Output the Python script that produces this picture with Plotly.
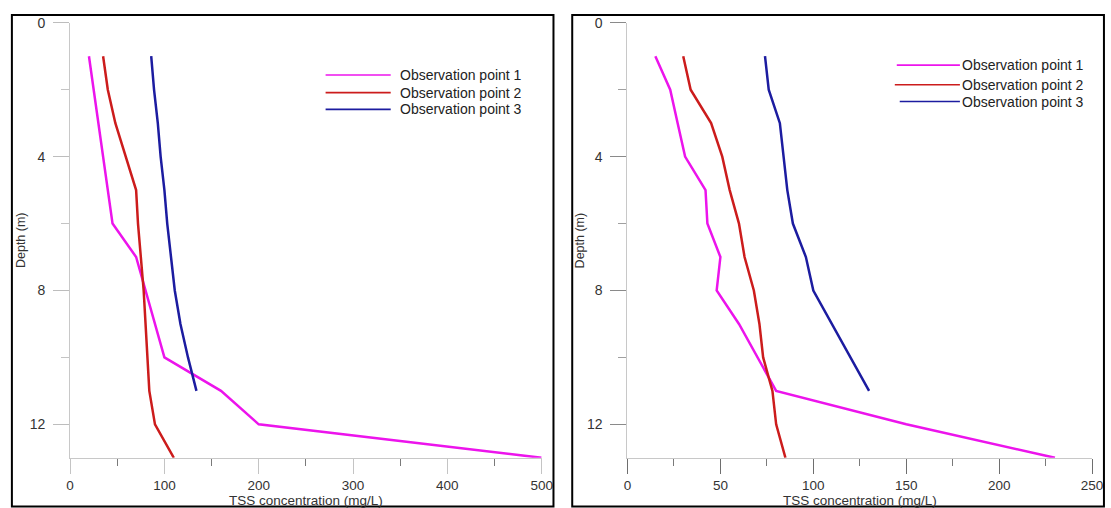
import plotly.graph_objects as go

W, H = 1111, 508

# ---------------- data ----------------
# Left panel
depth_L1 = [1, 6, 7, 10, 11, 12, 13]
tss_L1 = [20, 45, 70, 100, 160, 200, 500]
depth_L2 = [1, 2, 3, 4, 5, 6, 7, 8, 9, 10, 11, 12, 13]
tss_L2 = [35, 40, 48, 59, 70, 72, 75, 78, 80, 82, 84, 90, 110]
depth_L3 = [1, 2, 3, 4, 5, 6, 7, 8, 9, 10, 11]
tss_L3 = [86, 89, 93, 96, 100, 103, 107, 111, 117, 125, 134]

# Right panel
depth_R1 = [1, 2, 3, 4, 5, 6, 7, 8, 9, 10, 11, 12, 13]
tss_R1 = [15, 23, 27, 31, 42, 43, 50, 48, 60, 70, 80, 150, 230]
depth_R2 = [1, 2, 3, 4, 5, 6, 7, 8, 9, 10, 11, 12, 13]
tss_R2 = [30, 34, 45, 51, 55, 60, 63, 68, 71, 73, 78, 80, 85]
depth_R3 = [1, 2, 3, 4, 5, 6, 7, 8, 9, 10, 11]
tss_R3 = [74, 76, 82, 84, 86, 89, 96, 100, 110, 120, 130]

series_names = ["Observation point 1", "Observation point 2", "Observation point 3"]
colors = ["#ec14ec", "#cc1c1c", "#1c1ca0"]
depth_ticks = [0, 4, 8, 12]
depth_minor = [2, 6, 10]

FONT = "Liberation Sans, Arial, sans-serif"
TXT = "#333333"
FS = 14


def px(x):
    return x / W


def py(y):
    return 1 - y / H


fig = go.Figure()

left = [(tss_L1, depth_L1), (tss_L2, depth_L2), (tss_L3, depth_L3)]
right = [(tss_R1, depth_R1), (tss_R2, depth_R2), (tss_R3, depth_R3)]
for i, (xv, yv) in enumerate(left):
    fig.add_trace(go.Scatter(x=xv, y=yv, mode="lines", name=series_names[i],
                             line=dict(color=colors[i], width=2.5),
                             xaxis="x", yaxis="y", showlegend=False))
for i, (xv, yv) in enumerate(right):
    fig.add_trace(go.Scatter(x=xv, y=yv, mode="lines", name=series_names[i],
                             line=dict(color=colors[i], width=2.5),
                             xaxis="x2", yaxis="y2", showlegend=False))

y_dom = [py(457), py(15)]


def x_axis(dom, rng, dtick, mdtick, major_col, minor_col):
    return dict(domain=dom, range=rng, tickmode="linear", tick0=0, dtick=dtick,
                showgrid=False, zeroline=False, showline=True, linecolor="#c8c8c8",
                linewidth=1, ticks="outside", ticklen=15, tickwidth=1, tickcolor=major_col,
                tickfont=dict(family=FONT, size=13.5, color=TXT), ticklabelstandoff=0,
                minor=dict(dtick=mdtick, ticks="outside", ticklen=7, tickwidth=1,
                           tickcolor=minor_col))


def y_axis(major_col, minor_col):
    return dict(domain=y_dom, range=[13, 0], tickmode="array", tickvals=depth_ticks,
                showgrid=False, zeroline=False, showline=True, linecolor="#c8c8c8",
                linewidth=1, ticks="outside", ticklen=16, tickwidth=1, tickcolor=major_col,
                tickfont=dict(family=FONT, size=FS, color=TXT), ticklabelstandoff=5,
                minor=dict(tickmode="array", tickvals=depth_minor, ticks="outside",
                           ticklen=8, tickwidth=1, tickcolor=minor_col))


fig.update_layout(
    width=W, height=H,
    margin=dict(l=0, r=0, t=0, b=0),
    paper_bgcolor="white", plot_bgcolor="white",
    font=dict(family=FONT, size=FS, color=TXT),
    xaxis=dict(anchor="y", **x_axis([px(67), px(545)], [0, 500], 100, 50, "#c4c4c4", "#7a7a7a")),
    yaxis=dict(anchor="x", **y_axis("#bdbdbd", "#c4c4c4")),
    xaxis2=dict(anchor="y2", **x_axis([px(632), px(1103)], [0, 250], 50, 25, "#6e6e6e", "#7a7a7a")),
    yaxis2=dict(anchor="x2", **y_axis("#8a8a8a", "#a0a0a0")),
)

shapes = []
annotations = []

# panel frames
shapes.append(dict(type="rect", xref="paper", yref="paper",
                   x0=px(8), x1=px(557), y0=py(506.5), y1=py(7),
                   line=dict(color="black", width=2), fillcolor="rgba(0,0,0,0)"))
shapes.append(dict(type="rect", xref="paper", yref="paper",
                   x0=px(576), x1=px(1115), y0=py(506.5), y1=py(7),
                   line=dict(color="black", width=2), fillcolor="rgba(0,0,0,0)"))

# axis titles
for xc, ytitle_x in [((67 + 545) / 2, 18), ((632 + 1103) / 2, 584)]:
    annotations.append(dict(text="TSS concentration (mg/L)", xref="paper", yref="paper",
                            x=px(xc), y=py(500.5), xanchor="center", yanchor="middle",
                            showarrow=False, font=dict(family=FONT, size=13.5, color=TXT)))
    annotations.append(dict(text="Depth (m)", xref="paper", yref="paper",
                            x=px(ytitle_x), y=py(236), xanchor="center", yanchor="middle",
                            textangle=-90, showarrow=False,
                            font=dict(family=FONT, size=12.5, color=TXT)))

# manual legends
legend_specs = [
    # (line x0, line x1, text x, rows y)
    ([326, 326, 326], 392, 399, [68, 86, 103]),
    ([905, 903, 908], 969, 969, [58, 78, 95]),
]
for x0s, x1, tx, rows in legend_specs:
    for i, yy in enumerate(rows):
        shapes.append(dict(type="line", xref="paper", yref="paper",
                           x0=px(x0s[i]), x1=px(x1), y0=py(yy), y1=py(yy),
                           line=dict(color=colors[i], width=1.6)))
        annotations.append(dict(text=series_names[i], xref="paper", yref="paper",
                                x=px(tx), y=py(yy), xanchor="left", yanchor="middle",
                                showarrow=False,
                                font=dict(family=FONT, size=FS, color="#222222")))

fig.update_layout(shapes=shapes, annotations=annotations)

fig.write_html("out.html",
               config={"displayModeBar": False},
               post_script="document.body.style.margin='0';"
                           "document.body.style.overflow='hidden';")
